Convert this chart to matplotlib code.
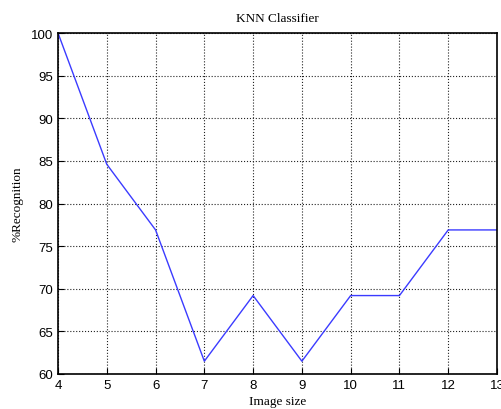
import numpy as np
import matplotlib.pyplot as plt

# Recognition rate of the KNN classifier vs image size
image_size = [4, 5, 6, 7, 8, 9, 10, 11, 12, 13]
recognition = [100, 84.6, 76.9, 61.5, 69.2, 61.5, 69.2, 69.2, 76.9, 76.9]

fig = plt.figure(figsize=(5.01, 4.10), dpi=100)
ax = fig.add_axes([0.1158, 0.0854, 0.8762, 0.8316])

ax.plot(image_size, recognition, color='#3b3bff', linewidth=1.0)

ax.set_xlim(4, 13)
ax.set_ylim(60, 100)
ax.set_xticks(range(4, 14))
ax.set_yticks(range(60, 101, 5))
ax.grid(True, color='#222222', linestyle=':', linewidth=0.8)
ax.tick_params(direction='in', length=4, labelsize=9.5, width=0.8)
for lbl in ax.get_xticklabels() + ax.get_yticklabels():
    lbl.set_family('Liberation Sans')
for sp in ax.spines.values():
    sp.set_linewidth(1.2)

ax.set_title('KNN Classifier', family='Liberation Serif', fontsize=9.5, pad=9)
ax.set_xlabel('Image size', family='Liberation Serif', fontsize=9.5, labelpad=3)
ax.set_ylabel('%Recognition', family='Liberation Serif', fontsize=9.5, labelpad=5)

fig.savefig('out.png', dpi=100)
